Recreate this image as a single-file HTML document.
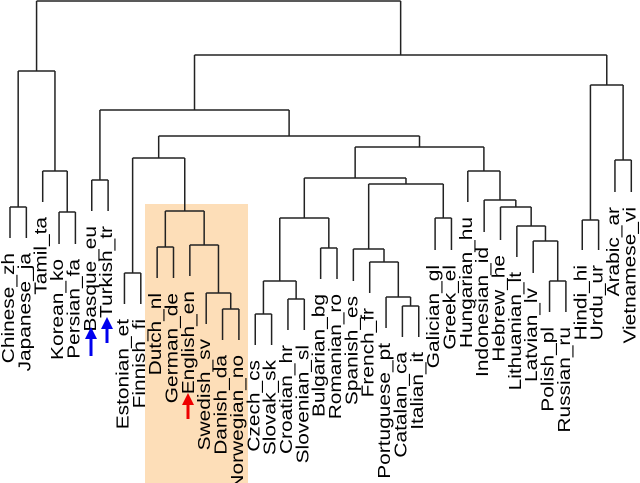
<!DOCTYPE html>
<html><head><meta charset="utf-8"><style>
html,body{margin:0;padding:0;background:#fff;}
svg{display:block;}
text{font-family:"Liberation Sans",sans-serif;font-size:18px;fill:#000;}
</style></head><body>
<svg id="chart" width="640" height="483" viewBox="0 0 640 483">
<rect x="145" y="204" width="103" height="279" fill="#FDDEB8"/>
<g id="links"></g>
<g id="labels"></g>
<g fill="#0000EE"><rect x="89.5" y="336" width="3" height="20"/><polygon points="85,339 91,327 97,339"/></g>
<g fill="#0000EE"><rect x="105.5" y="326" width="3" height="17"/><polygon points="101,329 107,317 113,329"/></g>
<g fill="#EE0000"><rect x="186.5" y="402" width="3" height="17"/><polygon points="182,405 188,393 194,405"/></g>
</svg>
<script>
const leafNames = ["Chinese_zh","Japanese_ja","Tamil_ta","Korean_ko","Persian_fa","Basque_eu","Turkish_tr","Estonian_et","Finnish_fi","Dutch_nl","German_de","English_en","Swedish_sv","Danish_da","Norwegian_no","Czech_cs","Slovak_sk","Croatian_hr","Slovenian_sl","Bulgarian_bg","Romanian_ro","Spanish_es","French_fr","Portuguese_pt","Catalan_ca","Italian_it","Galician_gl","Greek_el","Hungarian_hu","Indonesian_id","Hebrew_he","Lithuanian_lt","Latvian_lv","Polish_pl","Russian_ru","Hindi_hi","Urdu_ur","Arabic_ar","Vietnamese_vi"];
const leafEnds = [238,238,202,244,244,211,211,304,304,278,278,276,324,340,340,345,345,330,330,279,279,281,293,328,337,337,250,250,202,232,240,257,273,312,312,250,250,192,192];
// merges: negative = leaf index (-(i+1)), non-negative = node index
const mergeLeft  = [-1,-4,-3,0,-6,-8,-10,-14,-13,-12,6,5,-16,-18,12,-20,14,-25,-24,-23,-22,-27,20,16,-34,-33,-32,-31,-30,-29,23,11,4,-36,-38,33,32,3];
const mergeRight = [-2,-5,1,2,-7,-9,-11,-15,7,8,9,10,-17,-19,13,-21,15,-26,17,18,19,-28,21,22,-35,24,25,26,27,28,29,30,31,-37,-39,34,35,36];
const mergeHeights = [207,212,171,71,180,273,247,309,293,245,211,158,314,299,281,248,218,306,297,262,249,218,184,178,281,241,226,207,200,171,147,136,110,220,160,85,55,1];

const xScale = i => 10 + i * 16.35;
const NS = "http://www.w3.org/2000/svg";
const links = document.getElementById('links');
const labels = document.getElementById('labels');
const nodePos = [];
function pos(ref){
  if (ref < 0){ const i = -ref - 1; return {x:xScale(i), y:leafEnds[i]}; }
  return nodePos[ref];
}
function line(x1,y1,x2,y2){
  const l = document.createElementNS(NS,'line');
  l.setAttribute('x1',x1);l.setAttribute('y1',y1);l.setAttribute('x2',x2);l.setAttribute('y2',y2);
  l.setAttribute('stroke','#222');l.setAttribute('stroke-width','1.5');
  
  
  links.appendChild(l);
}
for (let k = 0; k < mergeHeights.length; k++){
  const a = pos(mergeLeft[k]), b = pos(mergeRight[k]), h = mergeHeights[k];
  line(a.x, h, a.x, a.y);
  line(b.x, h, b.x, b.y);
  line(a.x, h, b.x, h);
  nodePos.push({x:(a.x + b.x)/2, y:h});
}
for (let i = 0; i < leafNames.length; i++){
  const x = xScale(i) + 4, y = leafEnds[i] + 15;
  const t = document.createElementNS(NS,'text');
  t.setAttribute('x', 0); t.setAttribute('y', 0);
  t.setAttribute('text-anchor','end');
  t.setAttribute('transform','translate('+x+' '+y+') rotate(-90) scale(1.16 1)');
  t.textContent = leafNames[i];
  
  
  labels.appendChild(t);
}
</script>
</body></html>
